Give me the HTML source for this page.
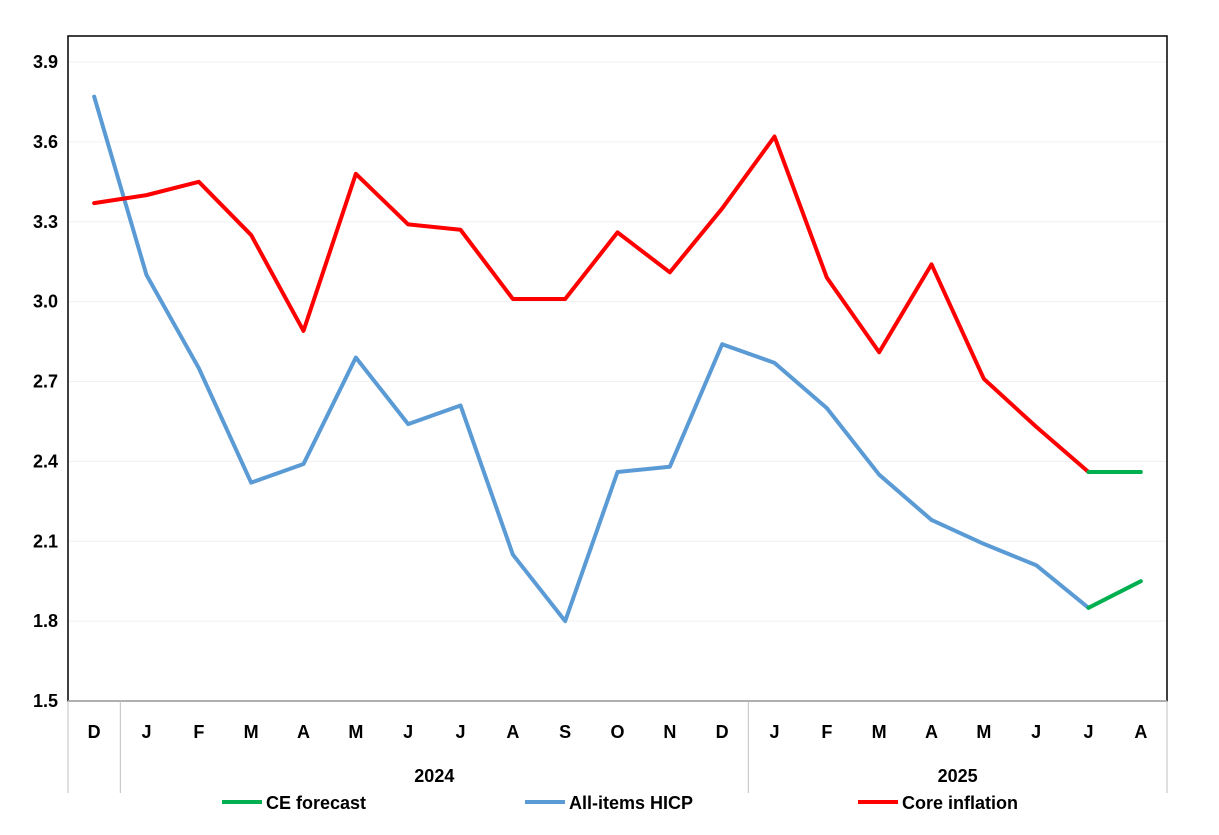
<!DOCTYPE html>
<html><head><meta charset="utf-8"><style>
body{margin:0;background:#fff;}
svg text{font-family:"Liberation Sans",Arial,sans-serif;font-weight:bold;font-size:18px;fill:#000;}
</style></head><body>
<svg id="chart" width="1219" height="830" xmlns="http://www.w3.org/2000/svg">
<g id="grid"></g>
<g id="axes"></g>
<g id="series"></g>
<g>
<line x1="222" y1="802" x2="262" y2="802" stroke="#00b050" stroke-width="4"/>
<text x="266" y="809">CE forecast</text>
<line x1="525" y1="802" x2="565" y2="802" stroke="#5b9bd5" stroke-width="4"/>
<text x="569" y="809">All-items HICP</text>
<line x1="858" y1="802" x2="898" y2="802" stroke="#ff0000" stroke-width="4"/>
<text x="902" y="809">Core inflation</text>
</g>
</svg>
<script>
const categories=["D","J","F","M","A","M","J","J","A","S","O","N","D","J","F","M","A","M","J","J","A"];
const hicp=[3.77,3.10,2.75,2.32,2.39,2.79,2.54,2.61,2.05,1.80,2.36,2.38,2.84,2.77,2.60,2.35,2.18,2.09,2.01,1.85,null];
const core=[3.37,3.40,3.45,3.25,2.89,3.48,3.29,3.27,3.01,3.01,3.26,3.11,3.35,3.62,3.09,2.81,3.14,2.71,2.53,2.36,null];
const ceHicp=[null,null,null,null,null,null,null,null,null,null,null,null,null,null,null,null,null,null,null,1.85,1.95];
const ceCore=[null,null,null,null,null,null,null,null,null,null,null,null,null,null,null,null,null,null,null,2.36,2.36];
const yTicks=[1.5,1.8,2.1,2.4,2.7,3.0,3.3,3.6,3.9];
const years=[{label:"2024",from:1,to:12},{label:"2025",from:13,to:20}];
const L=68,R=1167,T=36,B=701,yMin=1.5,yMax=3.9,yTopPx=62;
const bw=(R-L)/categories.length;
const xS=i=>L+bw*(i+0.5);
const yS=v=>B-(v-yMin)/(yMax-yMin)*(B-yTopPx);
const NS="http://www.w3.org/2000/svg";
function mk(tag,attrs,parent){const e=document.createElementNS(NS,tag);for(const k in attrs)e.setAttribute(k,attrs[k]);parent.appendChild(e);return e;}
const grid=document.getElementById('grid'),axes=document.getElementById('axes'),series=document.getElementById('series');
yTicks.forEach(v=>{
 if(v>yMin){const g=mk('line',{x1:L,x2:R,y1:yS(v),y2:yS(v),stroke:'#f0f0f0','stroke-width':1},grid);
 
 }
 const t=mk('text',{x:L-10,y:yS(v)+6,'text-anchor':'end'},axes);t.textContent=v.toFixed(1);
 
 
});
const frame=mk('rect',{x:L,y:T,width:R-L,height:B-T,fill:'none',stroke:'#000','stroke-width':1.5},axes);


const bl=mk('line',{x1:L,x2:R,y1:B,y2:B,stroke:'#bfbfbf','stroke-width':1.5},axes);


[0,1,13,21].forEach(i=>{const x=L+bw*i;const l=mk('line',{x1:x,x2:x,y1:B,y2:793,stroke:'#bfbfbf','stroke-width':1},axes);
 
 });
categories.forEach((c,i)=>{const t=mk('text',{x:xS(i),y:738,'text-anchor':'middle'},axes);t.textContent=c;
 
 });
years.forEach(y=>{const t=mk('text',{x:(L+bw*y.from+L+bw*(y.to+1))/2,y:782,'text-anchor':'middle'},axes);t.textContent=y.label;
 
 });
function line(arr,color,name){const pts=[];arr.forEach((v,i)=>{if(v!==null)pts.push(xS(i)+','+yS(v));});
 const p=mk('polyline',{points:pts.join(' '),fill:'none',stroke:color,'stroke-width':4,'stroke-linejoin':'round','stroke-linecap':'round'},series);
 
 }
line(hicp,'#5b9bd5','hicp-line');
line(core,'#ff0000','core-inflation-line');
line(ceHicp,'#00b050','ce-forecast-hicp-line');
line(ceCore,'#00b050','ce-forecast-core-line');
</script>
</body></html>
